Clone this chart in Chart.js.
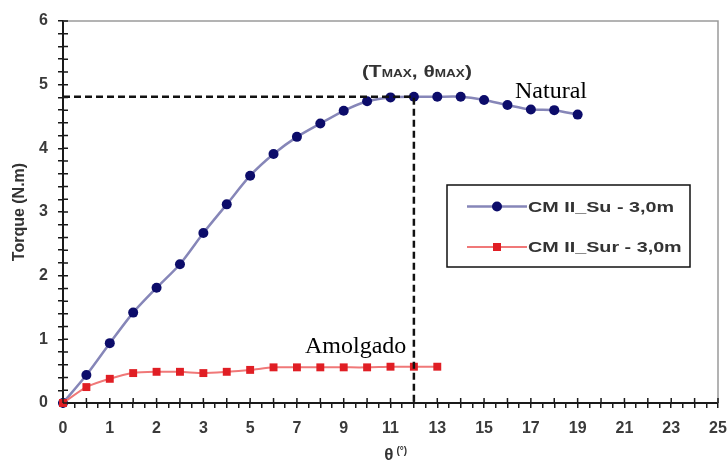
<!DOCTYPE html>
<html><head><meta charset="utf-8">
<script src="https://cdn.jsdelivr.net/npm/chart.js@4.4.1/dist/chart.umd.min.js"></script>
<style>html,body{margin:0;padding:0;background:#fff}#wrap{width:728px;height:462px}</style>
</head><body><div id="wrap"><canvas id="c" width="728" height="462"></canvas></div>
<script>
// θ categories (Excel category axis) – one point per category
const thetaCategories = [0,0.5,1,1.5,2,2.5,3,4,5,6,7,8,9,10,11,12,13,14,15,16,17,18,19,20,21,22,23,24,25];
// Torque (N.m)
const torqueSu  = [0,0.44,0.94,1.42,1.81,2.18,2.67,3.12,3.57,3.91,4.18,4.39,4.59,4.74,4.80,4.81,4.81,4.81,4.76,4.68,4.61,4.60,4.53];
const torqueSur = [0,0.25,0.38,0.47,0.49,0.49,0.47,0.49,0.52,0.56,0.56,0.56,0.56,0.56,0.57,0.57,0.57];
const seriesLabels = ["CM II_Su - 3,0m", "CM II_Sur - 3,0m"];
const tMax = 4.81;
const thetaMax = 12;
const yMin = 0, yMax = 6;
const axisTitleY = "Torque (N.m)";
const axisTitleX = "θ";
const axisTitleXUnit = "(°)";
const noteNatural = "Natural";
const noteAmolgado = "Amolgado";

const idxMax = thetaCategories.indexOf(thetaMax);
const toPts = arr => arr.map((v, i) => ({x: i, y: v}));

const TICK_FONT = {family: "'Liberation Sans', Arial, sans-serif", weight: 'bold', size: 16};
const TICK_COLOR = '#3a3a3a';

const decorPlugin = {
  id: 'decor',
  afterDraw(chart) {
    const ctx = chart.ctx, ca = chart.chartArea;
    const xs = chart.scales.x, ys = chart.scales.y;
    ctx.save();
    // frame top / right
    ctx.strokeStyle = '#9a9a9a'; ctx.lineWidth = 1.5;
    ctx.beginPath();
    ctx.moveTo(ca.left, ca.top); ctx.lineTo(ca.right, ca.top); ctx.lineTo(ca.right, ca.bottom);
    ctx.stroke();
    // inner halves of crossing ticks
    ctx.strokeStyle = '#1a1a1a'; ctx.lineWidth = 1.5;
    ctx.beginPath();
    ys.ticks.forEach(t => { const y = ys.getPixelForValue(t.value); ctx.moveTo(ca.left, y); ctx.lineTo(ca.left + 5, y); });
    xs.ticks.forEach(t => { if (Math.abs(t.value - Math.round(t.value)) < 1e-6) { const x = xs.getPixelForValue(t.value); ctx.moveTo(x, ca.bottom); ctx.lineTo(x, ca.bottom - 5); } });
    ctx.stroke();

    // axis titles
    ctx.fillStyle = '#333';
    ctx.font = "bold 16px 'Liberation Sans', Arial, sans-serif";
    ctx.textAlign = 'center'; ctx.textBaseline = 'middle';
    ctx.save();
    ctx.translate(20, (ca.top + ca.bottom) / 2);
    ctx.rotate(-Math.PI / 2);
    ctx.fillText(axisTitleY, 0, 0);
    ctx.restore();
    const cx = (ca.left + ca.right) / 2;
    ctx.font = "bold 17px 'Liberation Sans', Arial, sans-serif";
    ctx.textAlign = 'right';
    ctx.fillText(axisTitleX, cx + 3, 455);
    ctx.font = "bold 10px 'Liberation Sans', Arial, sans-serif";
    ctx.textAlign = 'left';
    ctx.fillText(axisTitleXUnit, cx + 6, 451);

    // (TMAX, θMAX) annotation centered over the θmax line
    const parts = [["(T", 17], ["MAX", 11], [", θ", 17], ["MAX", 11], [")", 17]];
    const fam = "'Liberation Sans Narrow', 'Liberation Sans', Arial, sans-serif";
    let total = 0;
    parts.forEach(p => { ctx.font = `bold ${p[1]}px ${fam}`; total += ctx.measureText(p[0]).width; });
    const target = 110, sx = target / total;
    const ax = xs.getPixelForValue(idxMax) + 3 - target / 2;
    ctx.save();
    ctx.translate(ax, 77);
    ctx.scale(sx, 1);
    ctx.textAlign = 'left'; ctx.textBaseline = 'alphabetic';
    let px = 0;
    parts.forEach(p => { ctx.font = `bold ${p[1]}px ${fam}`; ctx.fillText(p[0], px, 0); px += ctx.measureText(p[0]).width; });
    ctx.restore();

    // Serif notes
    ctx.fillStyle = '#000';
    ctx.font = "24px 'Liberation Serif', 'Times New Roman', serif";
    ctx.textAlign = 'left'; ctx.textBaseline = 'alphabetic';
    ctx.fillText(noteNatural, 515, 98);
    ctx.fillText(noteAmolgado, 305, 353);

    // Legend box
    const lx = 447, ly = 185, lw = 243, lh = 82;
    ctx.strokeStyle = '#111'; ctx.lineWidth = 1.5;
    ctx.strokeRect(lx, ly, lw, lh);
    const rows = [206.5, 247];
    const dsList = seriesLabels.map(l => chart.data.datasets.find(d => d.label === l));
    ctx.font = "bold 15px 'Liberation Sans', Arial, sans-serif";
    const w1 = ctx.measureText(seriesLabels[0]).width;
    const tsx = 146 / w1;
    dsList.forEach((ds, i) => {
      const y = rows[i];
      ctx.strokeStyle = ds.borderColor; ctx.lineWidth = ds.borderWidth;
      ctx.beginPath(); ctx.moveTo(467, y); ctx.lineTo(527, y); ctx.stroke();
      ctx.fillStyle = ds.pointBackgroundColor;
      if (ds.pointStyle === 'rect') {
        ctx.fillRect(497 - 4, y - 4, 8, 8);
      } else {
        ctx.beginPath(); ctx.arc(497, y, 5, 0, Math.PI * 2); ctx.fill();
      }
      ctx.save();
      ctx.translate(528, y + 1);
      ctx.scale(tsx, 1);
      ctx.fillStyle = '#333';
      ctx.font = "bold 15px 'Liberation Sans', Arial, sans-serif";
      ctx.textAlign = 'left'; ctx.textBaseline = 'middle';
      ctx.fillText(ds.label, 0, 0);
      ctx.restore();
    });
    ctx.restore();
  }
};

new Chart(document.getElementById('c'), {
  type: 'line',
  data: {
    datasets: [
      {
        label: 'max',
        data: [{x: 0, y: tMax}, {x: idxMax, y: tMax}, {x: idxMax, y: yMin}],
        borderColor: '#111', borderWidth: 2.5, borderDash: [7, 4],
        pointRadius: 0, tension: 0, order: -1
      },
      {
        label: seriesLabels[1],
        data: toPts(torqueSur),
        borderColor: '#f07878', borderWidth: 2,
        pointStyle: 'rect', pointRadius: 5.6,
        pointBackgroundColor: '#e01e24', pointBorderColor: '#e01e24', pointBorderWidth: 0,
        tension: 0.25, order: 0, clip: false
      },
      {
        label: seriesLabels[0],
        data: toPts(torqueSu),
        borderColor: '#8686b8', borderWidth: 2.5,
        pointStyle: 'circle', pointRadius: 5,
        pointBackgroundColor: '#0c0c6a', pointBorderColor: '#0c0c6a', pointBorderWidth: 0,
        tension: 0.25, order: 1, clip: false
      }
    ]
  },
  options: {
    responsive: false, animation: false,
    layout: {padding: {top: 21, right: 10, left: 0, bottom: 0}},
    plugins: {legend: {display: false}, tooltip: {enabled: false}},
    scales: {
      x: {
        type: 'linear', min: 0, max: thetaCategories.length - 1,
        afterFit(s) { s.height = 59; s.paddingRight = 6; s.paddingLeft = 6; },
        border: {color: '#1a1a1a', width: 2},
        grid: {drawOnChartArea: false, color: '#1a1a1a', lineWidth: 1.5, tickLength: 5},
        ticks: {
          stepSize: 0.5, autoSkip: false, maxRotation: 0, minRotation: 0, padding: 11,
          color: TICK_COLOR, font: TICK_FONT,
          callback: (v) => {
            const i = Math.round(v);
            if (Math.abs(v - i) > 1e-6 || i % 2 !== 0) return '';
            return String(thetaCategories[i]);
          }
        }
      },
      y: {
        min: yMin, max: yMax,
        afterFit(s) { s.width = 63; },
        border: {color: '#1a1a1a', width: 2},
        grid: {drawOnChartArea: false, color: '#1a1a1a', lineWidth: 1.5, tickLength: 5},
        ticks: {
          stepSize: 0.2, autoSkip: false, padding: 10,
          color: TICK_COLOR, font: TICK_FONT,
          callback: (v) => Math.abs(v - Math.round(v)) < 1e-6 ? String(Math.round(v)) : ''
        }
      }
    }
  },
  plugins: [decorPlugin]
});
</script>
</body></html>
